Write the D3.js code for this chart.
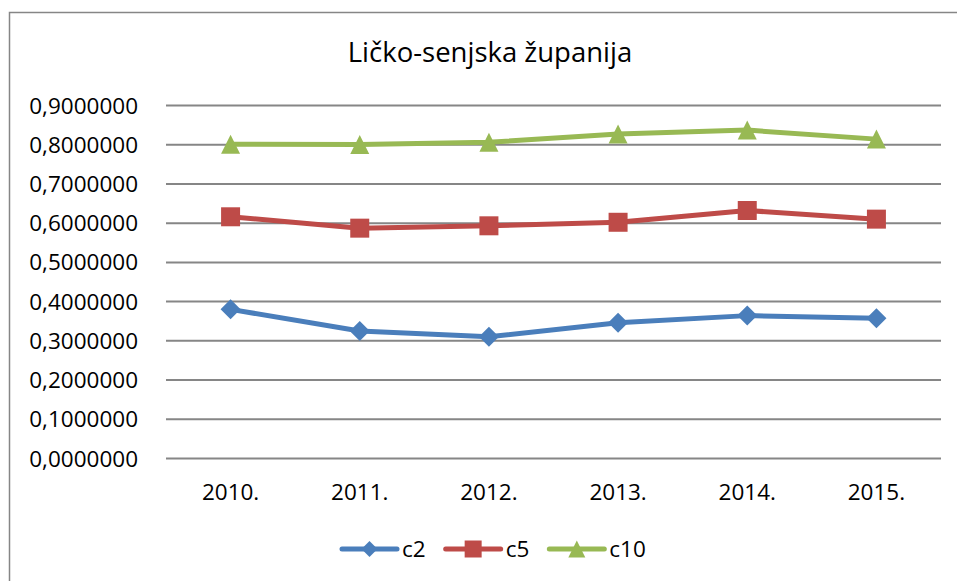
<!DOCTYPE html>
<html>
<head>
<meta charset="utf-8">
<script src="https://cdn.jsdelivr.net/npm/d3@7"></script>
<style>
  body { margin: 0; background: #fff; }
  text { font-family: "Open Sans", "Noto Sans", sans-serif; fill: #000; }
</style>
</head>
<body>
<div id="chart"></div>
<script>
// data
const years = ['2010.', '2011.', '2012.', '2013.', '2014.', '2015.'];
const c2 = [0.379, 0.324, 0.309, 0.345, 0.363, 0.356];
const c5 = [0.615, 0.586, 0.592, 0.601, 0.631, 0.609];
const c10 = [0.800, 0.799, 0.805, 0.826, 0.836, 0.813];
const yTicks = [0, 0.1, 0.2, 0.3, 0.4, 0.5, 0.6, 0.7, 0.8, 0.9];
const seriesNames = ['c2', 'c5', 'c10'];

let width = 957;
let height = 581;

let plot = { left: 166, right: 941, top: 105, bottom: 458 };

let series = [
    { name: 'c2', values: c2, color: '#4A7EBB', marker: 'diamond' },
    { name: 'c5', values: c5, color: '#BE4B48', marker: 'square' },
    { name: 'c10', values: c10, color: '#98B954', marker: 'triangle' }
];

// marker shapes, centred on the point
function markerPath(type, s) {
    let h = s / 2;
    if (type === 'diamond') return `M0,${-h}L${h},0L0,${h}L${-h},0Z`;
    if (type === 'square') return `M${-h},${-h}H${h}V${h}H${-h}Z`;
    return `M0,${-h}L${h},${h}L${-h},${h}Z`;
}

let svg = d3.select('#chart').append('svg')
    .attr('width', width)
    .attr('height', height);

// chart frame (right and bottom edges sit outside the picture)
svg.append('rect')
    .attr('x', 9.5)
    .attr('y', 12.5)
    .attr('width', 1000)
    .attr('height', 1000)
    .attr('fill', '#fff')
    .attr('stroke', '#868686')
    .attr('stroke-width', 1.5);

svg.append('text')
    .attr('x', 490)
    .attr('y', 62)
    .attr('text-anchor', 'middle')
    .style('font-size', '27.5px')
    .text('Ličko-senjska županija');

// scales
let x = d3.scaleBand()
    .domain(years)
    .range([plot.left, plot.right]);

let y = d3.scaleLinear()
    .domain([0, 0.9])
    .range([plot.bottom, plot.top]);

let fmt = d => d3.format('.7f')(d).replace('.', ',');

// y axis with gridlines
let yAxis = d3.axisLeft(y)
    .tickValues(yTicks)
    .tickFormat(fmt)
    .tickSize(-(plot.right - plot.left))
    .tickPadding(28);

let gy = svg.append('g')
    .attr('transform', `translate(${plot.left},0)`)
    .call(yAxis);

gy.select('.domain').remove();
gy.selectAll('line')
    .attr('stroke', '#868686')
    .attr('stroke-width', 2);
gy.selectAll('text')
    .attr('dy', null)
    .attr('y', 8)
    .style('font-size', '22.5px');

// x axis labels
let xAxis = d3.axisBottom(x)
    .tickSize(0)
    .tickPadding(26);

let gx = svg.append('g')
    .attr('transform', `translate(0,${plot.bottom})`)
    .call(xAxis);

gx.select('.domain').remove();
gx.selectAll('text')
    .attr('dy', null)
    .attr('y', 42)
    .style('font-size', '22.5px');

let cx = d => x(d) + x.bandwidth() / 2;

let line = d3.line()
    .x((d, i) => cx(years[i]))
    .y(d => y(d));

// lines and markers
series.forEach(s => {
    let g = svg.append('g').attr('class', 'series');

    g.append('path')
        .attr('d', line(s.values))
        .attr('fill', 'none')
        .attr('stroke', s.color)
        .attr('stroke-width', 5)
        .attr('stroke-linejoin', 'round');

    g.selectAll('.marker')
        .data(s.values)
        .enter()
        .append('path')
        .attr('class', 'marker')
        .attr('transform', (d, i) => `translate(${cx(years[i])},${y(d)})`)
        .attr('d', markerPath(s.marker, s.marker === 'diamond' ? 20 : 19))
        .attr('fill', s.color);
});

// legend
let legend = svg.append('g').attr('class', 'legend');
let lx = 342;
let ly = 549;
seriesNames.forEach((name, i) => {
    let s = series[i];
    let item = legend.append('g').attr('transform', `translate(${lx},${ly})`);
    item.append('line')
        .attr('x1', 0).attr('x2', 55)
        .attr('stroke', s.color)
        .attr('stroke-width', 5)
        .attr('stroke-linecap', 'round');
    item.append('path')
        .attr('transform', 'translate(27.5,0)')
        .attr('d', markerPath(s.marker, s.marker === 'diamond' ? 16 : 17))
        .attr('fill', s.color);
    let t = item.append('text')
        .attr('x', 60)
        .attr('y', 8)
        .style('font-size', '22.5px')
        .text(name);
    lx += 60 + t.node().getComputedTextLength() + 20;
});
</script>
</body>
</html>
